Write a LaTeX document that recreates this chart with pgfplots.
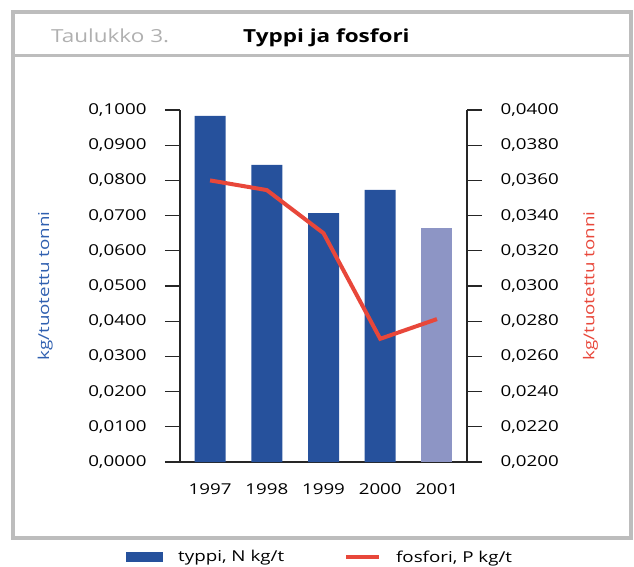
\documentclass[border=0pt]{standalone}
\usepackage{fontspec}
\setmainfont[FakeStretch=1.25]{Open Sans}
\usepackage{pgfplots}
\pgfplotsset{compat=1.18}

\definecolor{barblue}{HTML}{26519C}
\definecolor{barlight}{HTML}{8D95C5}
\definecolor{linered}{HTML}{E8473A}
\definecolor{labblue}{HTML}{3060B0}
\definecolor{framegray}{HTML}{BDBDBD}
\definecolor{titlegray}{HTML}{B0B0B0}

\newcommand{\tickfont}{\fontsize{15}{17}\selectfont}

\begin{document}
\begin{tikzpicture}[x=1pt,y=1pt]
\path[use as bounding box] (0,0) rectangle (634,566);
% frame and title band
\draw[framegray, line width=4pt] (13,554) rectangle (631,28.5);
\draw[framegray, line width=3.5pt] (13,510.5) -- (631,510.5);
\node[anchor=base west, text=titlegray, inner sep=0pt] at (51,523)
  {\fontsize{18}{20}\selectfont Taulukko 3.};
\node[anchor=base west, inner sep=0pt] at (243,523)
  {\fontsize{18}{20}\selectfont\bfseries Typpi ja fosfori};

\pgfplotsset{
  every axis/.append style={
    scale only axis, width=287pt, height=352pt,
    at={(180pt,104pt)}, anchor=south west,
    xmin=-0.53, xmax=4.53,
    tick align=outside, major tick length=15pt,
    axis line style={line width=1.2pt, black!85},
    every tick/.style={line width=1.2pt, black!85},
    tick label style={font=\tickfont},
    label style={font=\tickfont},
    scaled y ticks=false,
    /pgf/number format/assume math mode=true,
    yticklabel style={/pgf/number format/fixed, /pgf/number format/fixed zerofill,
      /pgf/number format/precision=4, /pgf/number format/use comma},
  }
}

\begin{axis}[
  axis y line*=left, axis x line*=bottom,
  ymin=0, ymax=0.1, ytick={0,0.01,...,0.1},
  yticklabel style={xshift=-15pt},
  xtick={0,1,2,3,4}, xticklabels={1997,1998,1999,2000,2001},
  xtick style={draw=none},
  xticklabel style={yshift=-3pt},
  ylabel={kg/tuotettu tonni},
  ylabel style={at={(axis description cs:-0.47,0.5)}, anchor=center, text=labblue},
  legend style={at={(axis description cs:-0.188,-0.27)}, anchor=west, draw=none, fill=none,
    inner sep=0pt, font=\tickfont, legend columns=2, cells={anchor=west},
    /tikz/every odd column/.append style={column sep=13pt},
    /tikz/every even column/.append style={column sep=58pt}},
]
\addplot[ybar, bar width=31pt, bar shift=0pt, fill=barblue, draw=none,
  legend image code/.code={\fill[barblue] (0pt,-5pt) rectangle (37pt,5pt);}]
  coordinates {(0,0.0983) (1,0.0844) (2,0.0707) (3,0.0773)};
\addlegendentry{typpi, N kg/t}
\addplot[ybar, bar width=31pt, bar shift=0pt, fill=barlight, draw=none, forget plot]
  coordinates {(4,0.0665)};
\addlegendimage{legend image code/.code={\draw[linered, line width=4pt] (0pt,0pt) -- (33pt,0pt);}}
\addlegendentry{fosfori, P kg/t}
\end{axis}

\begin{axis}[
  axis y line*=right, axis x line=none,
  ymin=0.02, ymax=0.04, ytick={0.02,0.022,...,0.0401},
  yticklabel style={xshift=15pt},
  ylabel={kg/tuotettu tonni},
  ylabel style={at={(axis description cs:1.43,0.5)}, anchor=center, rotate=0, text=linered},
]
\addplot[linered, line width=4pt, mark=none]
  coordinates {(0,0.0360) (1,0.03545) (2,0.0330) (3,0.0270) (4,0.02812)};
\end{axis}
\end{tikzpicture}
\end{document}
